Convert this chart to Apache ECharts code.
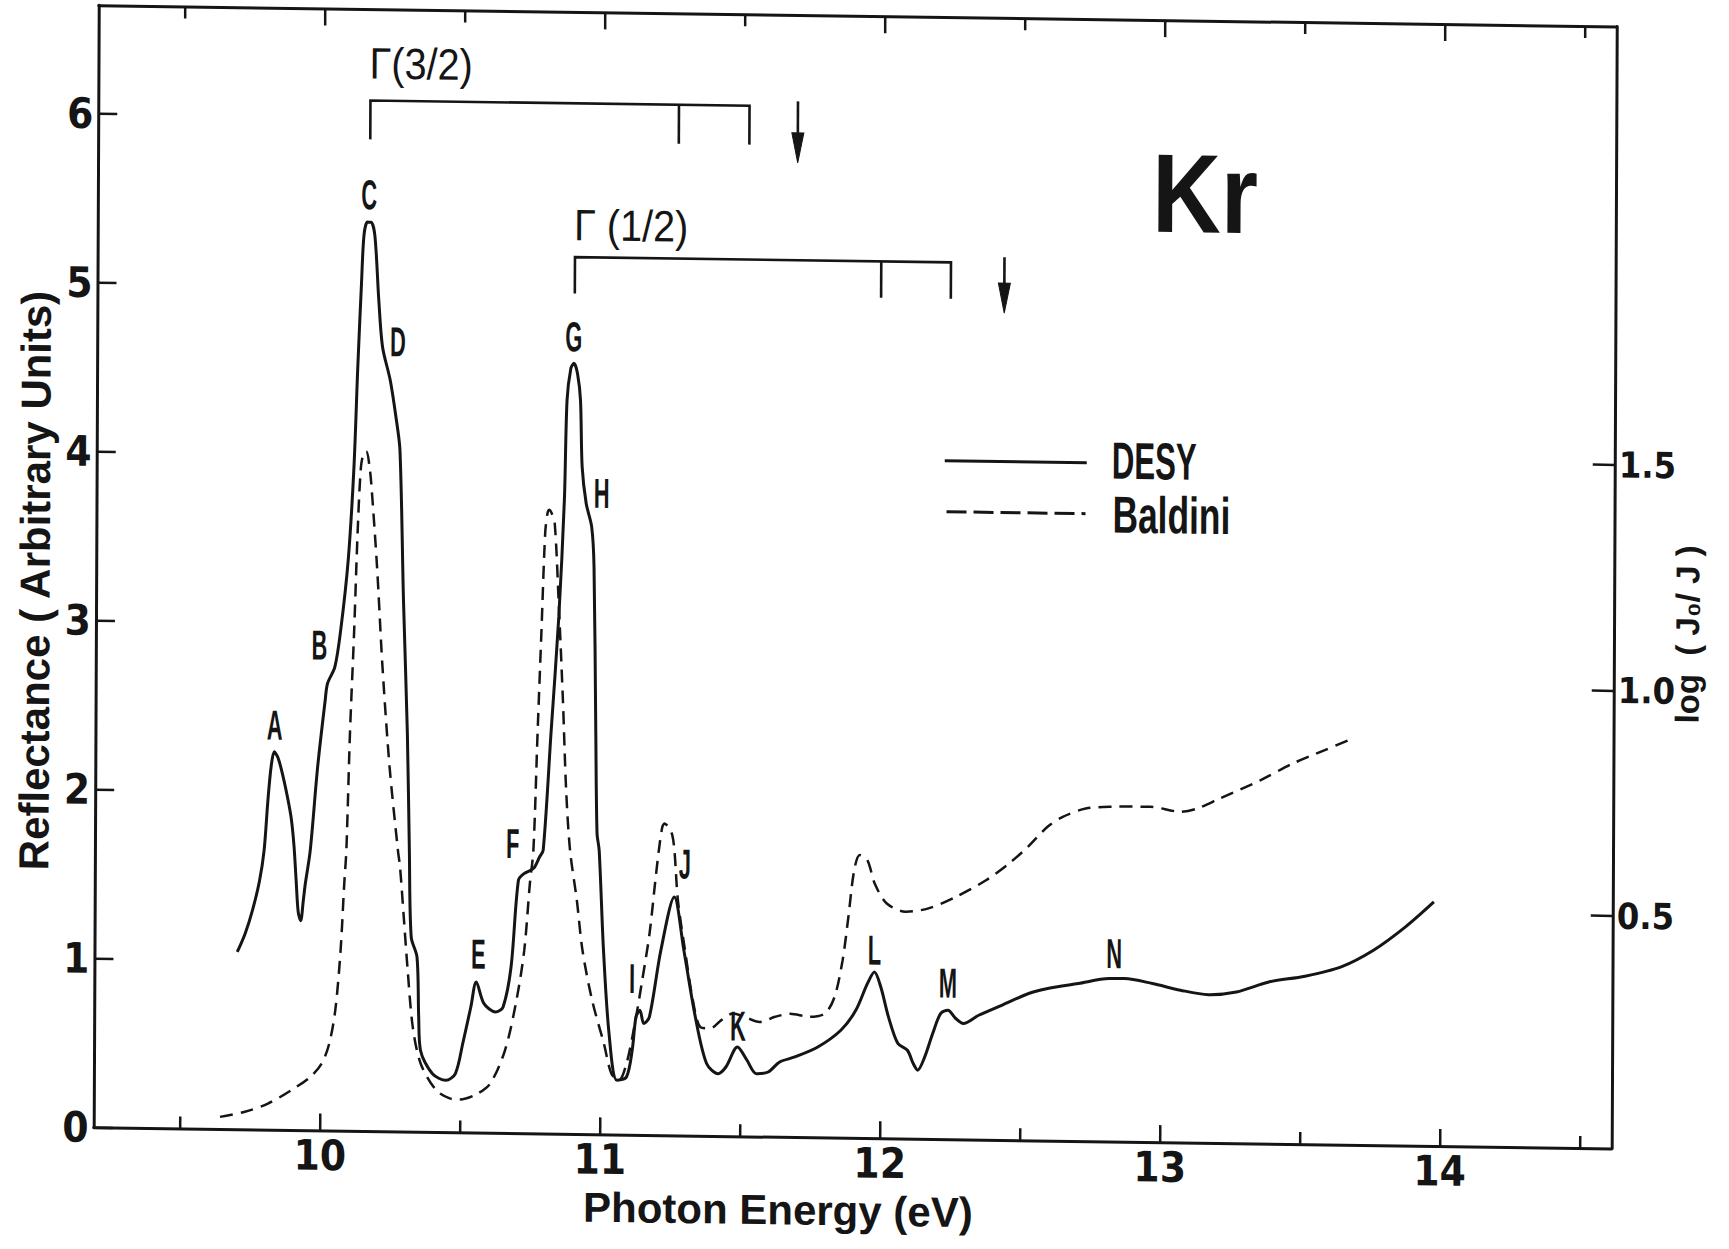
<!DOCTYPE html>
<html lang="en">
<head>
<meta charset="UTF-8">
<title>Kr reflectance</title>
<script src="https://cdn.jsdelivr.net/npm/echarts@6/dist/echarts.min.js"></script>
<style>
  html, body { margin: 0; padding: 0; background: #fff; }
  /* the scanned figure is slightly skewed */
  #chart {
    width: 1729px; height: 1249px;
    transform: matrix(1, 0.0139, -0.0045, 1, 0, 0);
    transform-origin: 864.5px 624.5px;
  }
</style>
</head>
<body>
<div id="chart"></div>
<script>
// photon energy (eV), reflectance (arbitrary units) - DESY
var desy = [
  [9.702,1.05],[9.730,1.16],[9.756,1.30],[9.780,1.47],[9.796,1.65],[9.809,1.95],[9.820,2.15],
  [9.831,2.237],[9.845,2.20],[9.863,2.09],[9.880,1.96],[9.893,1.84],[9.903,1.68],[9.911,1.48],
  [9.919,1.29],[9.928,1.24],[9.937,1.36],[9.944,1.46],[9.961,1.657],[9.986,2.15],[10.012,2.547],
  [10.020,2.646],[10.046,2.745],[10.066,2.96],[10.092,3.38],[10.111,3.93],[10.123,4.52],[10.135,5.02],
  [10.143,5.30],[10.155,5.38],[10.168,5.38],[10.182,5.30],[10.197,4.92],[10.211,4.644],[10.239,4.447],
  [10.260,4.23],[10.275,4.033],[10.290,3.145],[10.306,2.358],[10.315,1.666],[10.323,1.152],[10.344,1.034],
  [10.351,0.679],[10.358,0.482],[10.401,0.345],[10.449,0.307],[10.483,0.348],[10.509,0.528],[10.537,0.743],
  [10.556,0.892],[10.584,0.764],[10.625,0.716],[10.652,0.745],[10.680,0.983],[10.705,1.497],[10.725,1.537],
  [10.759,1.569],[10.780,1.637],[10.793,1.677],[10.819,2.37],[10.845,3.059],[10.863,3.751],[10.871,4.343],
  [10.884,4.53],[10.895,4.561],[10.908,4.50],[10.919,4.344],[10.926,3.949],[10.941,3.733],[10.961,3.595],
  [10.970,3.358],[10.979,2.374],[10.985,1.782],[10.993,1.68],[11.010,1.089],[11.031,0.599],[11.060,0.321],
  [11.094,0.342],[11.114,0.50],[11.127,0.697],[11.141,0.738],[11.155,0.659],[11.175,0.699],[11.215,1.095],
  [11.262,1.411],[11.297,1.097],[11.339,0.703],[11.380,0.428],[11.421,0.369],[11.449,0.409],[11.490,0.528],
  [11.524,0.451],[11.558,0.372],[11.600,0.383],[11.641,0.443],[11.695,0.474],[11.777,0.535],[11.859,0.636],
  [11.912,0.755],[11.953,0.914],[11.978,0.983],[12.001,0.895],[12.029,0.718],[12.063,0.562],[12.097,0.523],
  [12.118,0.445],[12.134,0.406],[12.159,0.485],[12.187,0.624],[12.215,0.743],[12.241,0.763],[12.269,0.715],
  [12.296,0.686],[12.351,0.736],[12.433,0.797],[12.529,0.869],[12.597,0.900],[12.706,0.932],[12.816,0.964],
  [12.871,0.965],[12.971,0.938],[13.071,0.901],[13.171,0.877],[13.271,0.895],[13.387,0.957],[13.516,0.994],
  [13.645,1.052],[13.760,1.153],[13.874,1.294],[13.975,1.444]
];

// photon energy (eV), log(J0/J) - Baldini
var baldini = [
  [9.643,0.012],[9.732,0.024],[9.814,0.043],[9.896,0.073],[9.964,0.103],[10.005,0.133],[10.032,0.178],
  [10.053,0.252],[10.071,0.385],[10.083,0.533],[10.090,0.607],[10.101,0.867],[10.114,1.088],[10.125,1.310],
  [10.136,1.457],[10.147,1.49],[10.156,1.491],[10.166,1.46],[10.173,1.421],[10.195,1.236],[10.216,1.015],
  [10.243,0.793],[10.274,0.609],[10.282,0.571],[10.296,0.461],[10.310,0.350],[10.330,0.217],[10.359,0.136],
  [10.414,0.078],[10.463,0.060],[10.497,0.058],[10.552,0.068],[10.607,0.094],[10.660,0.169],[10.700,0.280],
  [10.727,0.391],[10.746,0.539],[10.758,0.613],[10.771,0.872],[10.783,1.094],[10.795,1.316],[10.803,1.36],
  [10.809,1.368],[10.818,1.36],[10.829,1.338],[10.844,1.168],[10.861,0.946],[10.874,0.747],[10.889,0.613],
  [10.914,0.503],[10.935,0.392],[10.970,0.282],[11.013,0.186],[11.040,0.120],[11.067,0.105],[11.094,0.143],
  [11.121,0.224],[11.147,0.321],[11.174,0.431],[11.193,0.543],[11.206,0.616],[11.218,0.668],[11.226,0.676],
  [11.240,0.668],[11.254,0.650],[11.262,0.615],[11.275,0.506],[11.301,0.396],[11.330,0.285],[11.357,0.226],
  [11.392,0.223],[11.432,0.242],[11.474,0.257],[11.514,0.250],[11.569,0.239],[11.624,0.251],[11.678,0.258],
  [11.746,0.252],[11.802,0.260],[11.836,0.297],[11.864,0.378],[11.884,0.474],[11.904,0.578],[11.924,0.612],
  [11.951,0.601],[11.978,0.549],[12.020,0.506],[12.088,0.488],[12.170,0.496],[12.266,0.522],[12.375,0.560],
  [12.457,0.598],[12.525,0.636],[12.593,0.680],[12.648,0.703],[12.730,0.722],[12.826,0.727],[12.960,0.728],
  [13.067,0.718],[13.125,0.725],[13.210,0.749],[13.353,0.790],[13.468,0.828],[13.583,0.859],[13.669,0.882]
];

var xMajor = [10, 11, 12, 13, 14];
var xMinor = [9.5, 10.5, 11.5, 12.5, 13.5, 14.5];
var yLeftTicks = [0, 1, 2, 3, 4, 5, 6];
var yRightTicks = [0.5, 1.0, 1.5];

// structure labels, placed at (eV, reflectance)
var peakNames = ['A','B','C','D','E','F','G','H','I','J','K','L','M','N'];
var peakAt = [
  [9.832,2.395],[9.991,2.872],[10.161,5.541],[10.266,4.674],[10.563,1.056],[10.684,1.713],[10.894,4.718],
  [10.996,3.793],[11.113,0.924],[11.299,1.606],[11.491,0.651],[11.978,1.112],[12.241,0.923],[12.834,1.112]
];

// exciton series: n = 1, 2, 3 and series limit (eV)
var gammaNames = ['\u0393(3/2)', '\u0393 (1/2)'];
var gammaLevels = [[10.164, 11.266, 11.518], [10.897, 11.991, 12.240]];
var seriesLimits = [11.691, 12.431];

var X_MIN = 9.192, X_MAX = 14.614;
var Y_MAX = 6.641;
var R_MIN = -0.015, R_MAX = 2.472;

// heights (reflectance units) of the series markers
var markerLayout = [
  {top: 6.10, foot: 5.87, label: 6.32, arrowTop: 6.13, arrowTip: 5.766},
  {top: 5.19, foot: 4.975, label: 5.38, arrowTop: 5.225, arrowTip: 4.894}
];

var INK = '#151515';
var NARROW = '"Liberation Sans Narrow", "DejaVu Sans Condensed", "Liberation Sans", sans-serif';
var SANS = '"Liberation Sans", Arial, sans-serif';

function xAxisPart(position, ticks, tickLen, withLine) {
  return {
    type: 'value', position: position, min: X_MIN, max: X_MAX,
    axisLine: {show: withLine, onZero: false, lineStyle: {color: INK, width: 3}},
    axisTick: {show: true, inside: true, length: tickLen, customValues: ticks,
      lineStyle: {color: INK, width: 2.5}},
    axisLabel: {show: false},
    splitLine: {show: false}
  };
}

var bottomAxis = xAxisPart('bottom', xMajor, 17, true);
bottomAxis.axisLabel = {
  show: true, customValues: xMajor, margin: 8, color: INK, lineHeight: 34,
  fontSize: 42, fontWeight: 'bold', fontFamily: NARROW
};
bottomAxis.name = 'Photon Energy (eV)';
bottomAxis.nameLocation = 'middle';
bottomAxis.nameGap = 55;
bottomAxis.nameMoveOverlap = false;
bottomAxis.nameTextStyle = {
  fontSize: 42, lineHeight: 36, fontWeight: 'bold', fontFamily: SANS, color: INK, padding: [0, 149, 0, 0]
};

function legendText(x, y, text, squeeze) {
  return {
    type: 'text', x: x, y: y, scaleX: squeeze, silent: true,
    style: {text: text, font: 'bold 52px "Liberation Sans", Arial, sans-serif', fill: INK,
      align: 'left', verticalAlign: 'middle'}
  };
}

var chart = echarts.init(document.getElementById('chart'), null, {renderer: 'svg'});

var option = {
  animation: false,
  backgroundColor: '#fff',
  grid: {left: 96, right: 115, top: 16, bottom: 111},
  graphic: [
    {
      type: 'text', x: 1203, y: 189, scaleX: 0.85, silent: true,
      style: {text: 'Kr', font: 'bold 112px "Liberation Sans", Arial, sans-serif', fill: INK,
        align: 'center', verticalAlign: 'middle'}
    },
    // legend
    {type: 'line', silent: true, shape: {x1: 944, y1: 459.6, x2: 1086, y2: 459.6},
      style: {stroke: INK, lineWidth: 3}},
    {type: 'line', silent: true, shape: {x1: 946, y1: 510.6, x2: 1085, y2: 510.6},
      style: {stroke: INK, lineWidth: 3, lineDash: [20, 7]}},
    legendText(1111, 457, 'DESY', 0.6),
    legendText(1112, 511, 'Baldini', 0.68)
  ],
  xAxis: [
    bottomAxis,
    xAxisPart('bottom', xMinor, 12, false),
    xAxisPart('top', xMajor, 17, true),
    xAxisPart('top', xMinor, 12, false)
  ],
  yAxis: [{
    type: 'value', position: 'left', min: 0, max: Y_MAX,
    axisLine: {show: true, onZero: false, lineStyle: {color: INK, width: 3}},
    axisTick: {inside: true, length: 19, customValues: yLeftTicks, lineStyle: {color: INK, width: 2.5}},
    axisLabel: {customValues: yLeftTicks, margin: 5, color: INK, fontSize: 42, fontWeight: 'bold', fontFamily: NARROW},
    splitLine: {show: false},
    name: 'Reflectance ( Arbitrary Units)', nameLocation: 'middle', nameRotate: 90, nameGap: 40,
    nameMoveOverlap: false,
    nameTextStyle: {fontSize: 42, fontWeight: 'bold', fontFamily: SANS, color: INK, padding: [0, 30, 0, 0]}
  }, {
    type: 'value', position: 'right', min: R_MIN, max: R_MAX,
    axisLine: {show: true, onZero: false, lineStyle: {color: INK, width: 3}},
    axisTick: {inside: true, length: 22, customValues: yRightTicks, lineStyle: {color: INK, width: 2.5}},
    axisLabel: {customValues: yRightTicks, margin: 4, color: INK, fontSize: 36, fontWeight: 'bold', fontFamily: NARROW,
      formatter: function (v) { return v.toFixed(1); }},
    splitLine: {show: false},
    name: 'log\u00a0\u00a0(\u00a0J\u2080/\u00a0J\u00a0)', nameLocation: 'middle', nameRotate: 90, nameGap: 57,
    nameMoveOverlap: false,
    nameTextStyle: {fontSize: 33, fontWeight: 'bold', fontFamily: SANS, color: INK, padding: [0, 92, 0, 0]}
  }],
  series: [{
    name: 'DESY', type: 'line', xAxisIndex: 0, yAxisIndex: 0,
    data: desy, symbol: 'none', smooth: 0.3,
    lineStyle: {color: INK, width: 3}, itemStyle: {color: INK}
  }, {
    name: 'Baldini', type: 'line', xAxisIndex: 0, yAxisIndex: 1,
    data: baldini, symbol: 'none', smooth: 0.3,
    lineStyle: {color: INK, width: 2.5, type: [13, 8]}, itemStyle: {color: INK}
  }, {
    name: 'peaks', type: 'custom', xAxisIndex: 0, yAxisIndex: 0, silent: true,
    data: peakAt,
    renderItem: function (params, api) {
      var p = api.coord([api.value(0), api.value(1)]);
      return {
        type: 'text', x: p[0], y: p[1], scaleX: 0.52,
        style: {text: peakNames[params.dataIndex], fill: INK,
          font: 'bold 42px "Liberation Sans", Arial, sans-serif',
          align: 'center', verticalAlign: 'middle'}
      };
    }
  }, {
    name: 'series', type: 'custom', xAxisIndex: 0, yAxisIndex: 0, silent: true,
    data: gammaLevels.map(function (g, i) { return g.concat([seriesLimits[i]]); }),
    renderItem: function (params, api) {
      var lay = markerLayout[params.dataIndex];
      var top = api.coord([api.value(0), lay.top])[1];
      var foot = api.coord([api.value(0), lay.foot])[1];
      var x1 = api.coord([api.value(0), 0])[0];
      var x2 = api.coord([api.value(1), 0])[0];
      var x3 = api.coord([api.value(2), 0])[0];
      var xa = api.coord([api.value(3), 0])[0];
      var aTop = api.coord([api.value(3), lay.arrowTop])[1];
      var aTip = api.coord([api.value(3), lay.arrowTip])[1];
      var lab = api.coord([api.value(0), lay.label]);
      var stroke = {stroke: INK, lineWidth: 2.6, fill: 'none'};
      return {
        type: 'group',
        children: [
          {type: 'polyline', shape: {points: [[x1, foot], [x1, top], [x3, top], [x3, foot]]}, style: stroke},
          {type: 'line', shape: {x1: x2, y1: top, x2: x2, y2: foot}, style: stroke},
          {type: 'line', shape: {x1: xa, y1: aTop, x2: xa, y2: aTip - 20}, style: stroke},
          {type: 'polygon', shape: {points: [[xa - 6, aTip - 30], [xa + 6, aTip - 30], [xa, aTip]]},
            style: {fill: INK, stroke: INK, lineWidth: 1}},
          {type: 'text', x: lab[0] - 1, y: lab[1], scaleX: 0.9,
            style: {text: gammaNames[params.dataIndex], fill: INK,
              font: '44px "Liberation Sans", Arial, sans-serif',
              align: 'left', verticalAlign: 'middle'}}
        ]
      };
    }
  }]
};

chart.setOption(option);
</script>
</body>
</html>
